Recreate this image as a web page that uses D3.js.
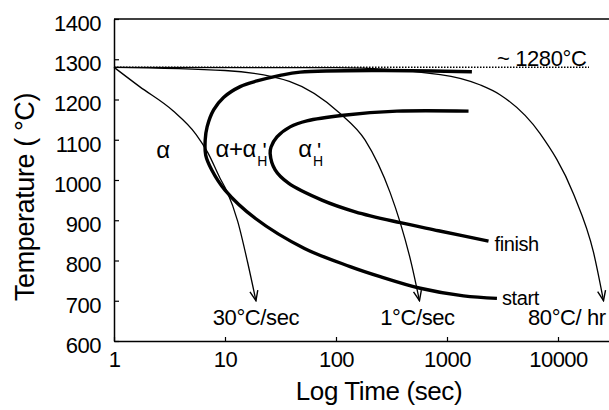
<!DOCTYPE html>
<html>
<head>
<meta charset="utf-8">
<script src="https://cdn.jsdelivr.net/npm/d3@7/dist/d3.min.js"></script>
<style>
  html, body { margin: 0; padding: 0; background: #fff; }
  svg { display: block; font-family: 'Liberation Sans', Arial, sans-serif; }
</style>
</head>
<body>
<div id="chart"></div>
<script>
'use strict';

// tick values
const xTicks = [1, 10, 100, 1000, 10000];
const yTicks = [600, 700, 800, 900, 1000, 1100, 1200, 1300, 1400];

// cooling paths, [time (s), temperature (C)]
const rate30 = [[1, 1280], [1.7, 1232], [3.4, 1172], [5.5, 1113], [7, 1068], [9, 1005], [10.4, 972], [13, 898], [16, 795], [19, 700]];
const rate1 = [[1, 1280], [10, 1272], [38, 1245], [109, 1165], [183, 1099], [308, 968], [379, 894], [480, 790], [565, 700]];
const rate80h = [[1, 1280], [100, 1279], [870, 1262], [2000, 1236], [3000, 1212], [6900, 1115], [13800, 965], [20900, 820], [25700, 700]];

// transformation curves, from top end round the nose to bottom end
const startCurve = [[1676, 1269], [250, 1272], [47.6, 1268], [31.4, 1260], [19.4, 1246], [13.7, 1232], [9.7, 1205], [7.9, 1174], [6.9, 1132], [6.63, 1099], [6.7, 1062], [7.6, 1025], [10, 975], [18.7, 905], [52, 830], [134, 785], [250, 760], [574, 731], [1409, 712], [2818, 706]];
const finishCurve = [[1563, 1171], [354, 1171], [117, 1161], [54.7, 1147], [38.6, 1132], [29.4, 1107], [26, 1082], [25.5, 1066], [28.3, 1025], [37.3, 992], [74.6, 950], [149, 921], [379, 894], [838, 874], [2366, 848]];

const eutectoid = 1280;

const width = 609;
const height = 410;

const x = d3.scaleLog().domain([1, 1e5]).range([114, 669]);
const y = d3.scaleLinear().domain([600, 1400]).range([341, 19]);

const svg = d3.select('#chart').append('svg')
    .attr('width', width)
    .attr('height', height);

svg.append('defs').append('marker')
    .attr('id', 'arrow')
    .attr('viewBox', '0 0 12 10')
    .attr('refX', 11)
    .attr('refY', 5)
    .attr('markerWidth', 12)
    .attr('markerHeight', 10)
    .attr('markerUnits', 'userSpaceOnUse')
    .attr('orient', 'auto')
    .append('path')
    .attr('d', 'M1,1 L11,5 L1,9')
    .attr('fill', 'none')
    .attr('stroke', '#000')
    .attr('stroke-width', 1.4);

// top frame line
svg.append('line')
    .attr('x1', x(1)).attr('x2', width)
    .attr('y1', y(1400)).attr('y2', y(1400))
    .attr('stroke', '#000')
    .attr('stroke-width', 1.3);

// axes
let xAxis = svg.append('g')
    .attr('transform', `translate(0,${y(600)})`)
    .call(d3.axisBottom(x).tickValues(xTicks).tickFormat(d3.format('d'))
        .tickSize(-4).tickSizeOuter(0).tickPadding(10));
let yAxis = svg.append('g')
    .attr('transform', `translate(${x(1)},0)`)
    .call(d3.axisLeft(y).tickValues(yTicks).tickFormat(d3.format('d'))
        .tickSize(-5).tickSizeOuter(0).tickPadding(13));

[xAxis, yAxis].forEach(g => {
    g.select('.domain').attr('stroke-width', 1.5);
    g.selectAll('.tick line').attr('stroke-width', 1.2);
    g.selectAll('.tick text')
        .attr('font-size', 22)
        .attr('font-family', "'Liberation Sans', Arial, sans-serif")
        .attr('letter-spacing', -0.5)
        .attr('fill', '#000');
});
yAxis.selectAll('.tick text').attr('dy', '0.52em');

// ~1280 dotted line
svg.append('line')
    .attr('x1', x(1)).attr('x2', 589)
    .attr('y1', y(eutectoid)).attr('y2', y(eutectoid))
    .attr('stroke', '#000')
    .attr('stroke-width', 1.5)
    .attr('stroke-dasharray', '1.5,1.5');

const thinLine = d3.line()
    .x(d => x(d[0]))
    .y(d => y(d[1]))
    .curve(d3.curveMonotoneX);

const thickLine = d3.line()
    .x(d => x(d[0]))
    .y(d => y(d[1]))
    .curve(d3.curveCatmullRom.alpha(0.5));

svg.append('g')
    .selectAll('path')
    .data([rate30, rate1, rate80h])
    .enter()
    .append('path')
    .attr('d', thinLine)
    .attr('fill', 'none')
    .attr('stroke', '#000')
    .attr('stroke-width', 1.3)
    .attr('marker-end', 'url(#arrow)');

svg.append('g')
    .selectAll('path')
    .data([startCurve, finishCurve])
    .enter()
    .append('path')
    .attr('d', thickLine)
    .attr('fill', 'none')
    .attr('stroke', '#000')
    .attr('stroke-width', 3.4)
    .attr('stroke-linecap', 'butt');

// text
function label(txt, px, py, size, anchor) {
    return svg.append('text')
        .attr('x', px)
        .attr('y', py)
        .attr('font-size', size)
        .attr('text-anchor', anchor || 'start')
        .attr('letter-spacing', -0.4)
        .attr('fill', '#000')
        .text(txt);
}

label('~ 1280°C', 497, 66, 22);
label('finish', x(2366) + 6, 251, 20);
label('start', x(2818) + 5, 305, 20);
label('30°C/sec', x(19), 325, 22, 'middle');
label('1°C/sec', x(565) - 2, 325, 22, 'middle');
label('80°C/ hr', 528, 325, 22);

// phase fields: main glyphs plus prime and subscript H in one text element
label('α', x(2.76), y(1055), 24, 'middle');
function phase(main, t0, tPrime, tSub) {
    let el = svg.append('text')
        .attr('x', x(t0))
        .attr('y', y(1057))
        .attr('font-size', 24)
        .attr('letter-spacing', -0.4)
        .attr('fill', '#000');
    el.append('tspan').text(main);
    el.append('tspan')
        .attr('x', x(tPrime)).attr('y', y(1055))
        .attr('font-size', 22)
        .text("'");
    el.append('tspan')
        .attr('x', x(tSub)).attr('y', y(1034))
        .attr('font-size', 14)
        .text('H');
}
phase('α+α', 8.2, 21.8, 19.5);
phase('α', 45.6, 67.5, 62);

// axis titles
label('Log Time (sec)', 379, 400, 26, 'middle');
svg.append('text')
    .attr('transform', 'translate(34,197) rotate(-90)')
    .attr('font-size', 27)
    .attr('text-anchor', 'middle')
    .attr('letter-spacing', -0.4)
    .text('Temperature ( °C)');
</script>
</body>
</html>
